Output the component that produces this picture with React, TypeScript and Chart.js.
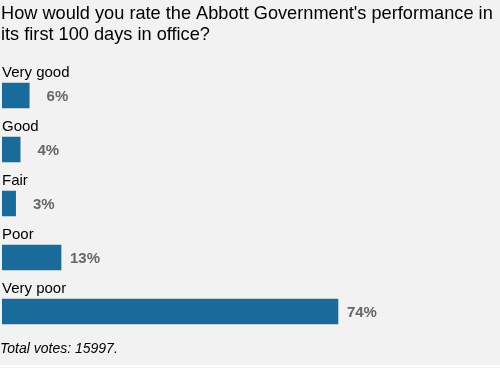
import React, { useEffect, useRef } from "react";
import { Chart, registerables } from "chart.js";

Chart.register(...registerables);

const titleLines = [
  "How would you rate the Abbott Government's performance in",
  "its first 100 days in office?",
];
const categories = ["Very good", "Good", "Fair", "Poor", "Very poor"];
const percentages = [6, 4, 3, 13, 74];
const footerText = "Total votes: 15997.";

const FONT = "'Liberation Sans', Arial, Helvetica, sans-serif";
const BG = "#f2f2f2";
const BAR = "#1a6b9a";

const textPlugin = {
  id: "pollText",
  beforeDraw(chart: any) {
    const ctx = chart.ctx;
    ctx.save();
    ctx.fillStyle = BG;
    ctx.fillRect(0, 0, chart.width, chart.height);
    ctx.fillStyle = "#ffffff";
    ctx.fillRect(0, 365, chart.width, 2);
    ctx.restore();
  },
  afterDraw(chart: any) {
    const ctx = chart.ctx;
    const meta = chart.getDatasetMeta(0);
    ctx.save();
    ctx.textBaseline = "alphabetic";
    // title
    ctx.fillStyle = "#000000";
    ctx.font = `18.2px ${FONT}`;
    ctx.textAlign = "left";
    ctx.fillText(titleLines[0], 1, 19);
    ctx.fillText(titleLines[1], 1, 40);
    // category labels and values
    meta.data.forEach((bar: any, i: number) => {
      const top = bar.y - bar.height / 2;
      ctx.fillStyle = "#000000";
      ctx.font = `15px ${FONT}`;
      ctx.textAlign = "left";
      ctx.fillText(categories[i], 2, top - 6);
      ctx.fillStyle = "#666666";
      ctx.font = `bold 15px ${FONT}`;
      ctx.textAlign = "right";
      ctx.fillText(percentages[i] + "%", bar.x + 39, bar.y + 5.2);
    });
    // footer
    ctx.fillStyle = "#000000";
    ctx.font = `italic 14px ${FONT}`;
    ctx.textAlign = "left";
    ctx.fillText(footerText, 0, 353);
    ctx.restore();
  },
};

export default function App() {
  const ref = useRef<HTMLCanvasElement>(null);
  useEffect(() => {
    if (!ref.current) return;
    const chart = new Chart(ref.current, {
      type: "bar",
      data: {
        labels: categories,
        datasets: [
          {
            data: percentages,
            backgroundColor: BAR,
            borderWidth: 0,
            barThickness: 25,
          },
        ],
      },
      options: {
        indexAxis: "y",
        responsive: false,
        animation: false,
        devicePixelRatio: 1,
        layout: { padding: { top: 68.5, bottom: 29.5, left: 2, right: 44 } },
        scales: {
          x: { display: false, min: 0, max: 100 },
          y: { display: false, offset: true, grid: { display: false } },
        },
        plugins: {
          legend: { display: false },
          title: { display: false },
          tooltip: { enabled: false },
        },
      },
      plugins: [textPlugin],
    } as any);
    return () => chart.destroy();
  }, []);
  return (
    <div
      style={{
        position: "absolute",
        left: 0,
        top: 0,
        width: 500,
        height: 368,
        background: BG,
        overflow: "hidden",
      }}
    >
      <canvas ref={ref} width={500} height={368} style={{ display: "block" }} />
    </div>
  );
}
